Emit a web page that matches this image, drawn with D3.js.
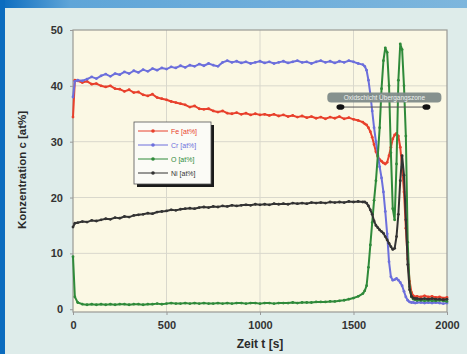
<!DOCTYPE html>
<html><head><meta charset="utf-8">
<script src="https://cdn.jsdelivr.net/npm/d3@7/dist/d3.min.js"></script>
<style>
html,body{margin:0;padding:0;background:#deecea;}
svg{display:block;font-family:"Liberation Sans",Arial,sans-serif;}
</style></head><body>
<svg id="c" width="467" height="354"></svg>
<script>
// ---- data ----
const timeS = [0,10,25,50,75,100,125,150,175,200,225,250,275,300,325,350,375,400,425,450,475,500,525,550,575,600,625,650,675,700,725,750,775,800,825,850,875,900,925,950,975,1000,1025,1050,1075,1100,1125,1150,1175,1200,1225,1250,1275,1300,1325,1350,1375,1400,1425,1450,1475,1500,1525,1550,
 1560,1570,1580,1590,1600,1610,1620,1630,1640,1650,1660,1670,1680,1690,1700,1710,1720,1730,1740,1750,1760,1770,1780,1790,1800,1810,1820,1830,1840,
 1860,1880,1900,1920,1940,1960,1980,2000];

const fe = [34.4,41.0,40.9,40.6,40.8,40.3,40.4,40.0,39.8,40.0,39.5,39.4,39.0,39.3,38.8,38.9,38.4,38.2,38.5,37.9,37.7,37.5,37.2,37.0,36.8,36.6,36.2,36.4,35.9,35.8,35.9,35.5,35.3,35.5,35.1,35.0,35.2,34.9,35.1,34.8,35.0,34.8,34.9,34.7,34.9,34.6,34.8,34.5,34.7,34.4,34.6,34.3,34.5,34.2,34.4,34.1,34.4,34.2,34.5,34.1,34.3,34.0,33.8,33.5,
 33.2,33.0,32.5,31.8,30.8,29.5,28.2,27.3,26.8,26.5,26.2,26.0,26.3,27.5,29.0,30.5,31.2,31.5,31.0,29.0,25.5,21.0,14.5,9.0,5.0,3.0,2.4,2.2,2.3,
 2.2,2.4,2.2,2.3,2.1,2.2,2.0,2.1];

const cr = [38.0,40.8,41.0,40.9,41.2,41.6,41.3,41.8,42.1,41.7,42.2,42.0,42.5,42.2,42.7,42.4,42.9,42.6,43.1,42.8,43.2,43.0,43.4,43.2,43.6,43.3,43.7,43.5,43.9,43.6,44.0,43.7,43.5,44.2,44.5,44.2,44.4,44.1,44.3,44.0,44.2,44.4,44.1,44.3,44.0,44.2,44.4,44.1,44.3,44.5,44.2,44.3,44.0,44.3,44.5,44.2,44.4,44.1,44.4,44.2,44.5,44.3,44.0,43.8,
 43.5,42.8,41.0,38.5,35.5,32.5,30.0,27.8,25.5,23.5,21.0,17.5,13.5,8.5,5.8,5.2,5.3,5.5,5.2,4.8,4.2,3.2,2.2,1.6,1.3,1.2,1.2,1.1,1.2,
 1.2,1.1,1.2,1.1,1.2,1.1,1.0,1.1];

const ox = [9.4,2.2,1.2,0.9,0.8,0.9,0.8,0.9,0.8,0.9,0.8,0.9,0.9,0.8,0.9,0.9,0.8,0.9,0.9,1.0,0.9,1.0,1.1,1.0,1.0,1.1,1.0,1.1,1.0,1.1,1.0,1.0,1.1,1.0,1.1,1.0,1.1,1.1,1.0,1.1,1.1,1.0,1.1,1.1,1.0,1.1,1.1,1.1,1.2,1.1,1.2,1.2,1.2,1.3,1.3,1.3,1.4,1.4,1.5,1.6,1.8,2.0,2.3,2.8,
 3.3,4.2,7.5,11.5,15.5,19.5,23.0,27.5,32.5,39.5,44.5,46.8,46.0,40.0,28.0,18.0,16.0,26.0,41.0,47.5,46.5,40.0,31.0,12.0,4.0,2.2,1.8,1.7,1.6,
 1.6,1.5,1.6,1.5,1.5,1.6,1.5,1.4];

const ni = [14.7,15.4,15.5,15.7,15.6,15.9,15.8,16.0,16.2,16.1,16.4,16.3,16.6,16.5,16.8,16.9,17.0,17.2,17.1,17.4,17.5,17.6,17.8,17.7,17.9,18.0,18.1,18.0,18.2,18.3,18.2,18.4,18.3,18.5,18.4,18.6,18.5,18.6,18.7,18.6,18.8,18.7,18.8,18.7,18.9,18.8,18.9,18.8,19.0,18.9,19.0,18.9,19.1,19.0,19.1,19.0,19.2,19.1,19.2,19.1,19.3,19.2,19.3,19.2,
 19.2,19.0,18.5,17.8,17.0,15.8,15.0,14.6,14.2,13.9,13.6,13.0,12.4,11.8,11.2,10.7,10.9,13.0,17.0,23.0,27.5,24.0,16.0,8.0,3.5,2.3,2.0,1.9,1.9,
 1.8,1.9,1.8,1.9,1.8,1.8,1.7,1.8];

const seriesNames = ["Fe [at%]","Cr [at%]","O [at%]","Ni [at%]"];
const seriesColors = ["#e8402c","#6c6fdc","#2f8a3a","#333333"];
const xTicks = [0,500,1000,1500,2000];
const yTicks = [0,10,20,30,40,50];
const yLabel = "Konzentration c [at%]";
const xLabel = "Zeit t [s]";
const annotationText = "Oxidschicht  Übergangszone";

// ---- chart ----
const svg = d3.select("#c");
const defs = svg.append("defs");
const g1 = defs.append("linearGradient").attr("id","topg").attr("x1","0").attr("x2","1");
g1.append("stop").attr("offset","0").attr("stop-color","#0b6cbf");
g1.append("stop").attr("offset","0.15").attr("stop-color","#5fa5d8");
g1.append("stop").attr("offset","1").attr("stop-color","#7db6dd");
svg.append("rect").attr("x",0).attr("y",0).attr("width",467).attr("height",8).attr("fill","url(#topg)");
svg.append("rect").attr("x",0).attr("y",0).attr("width",5).attr("height",354).attr("fill","#0b6cbf");

const L=73, R=447, T=30, B=312;
const x = d3.scaleLinear().domain([0,2000]).range([L,R]);
const y = d3.scaleLinear().domain([-0.5,50]).range([B,T]);

svg.append("rect").attr("x",L).attr("y",T).attr("width",R-L).attr("height",B-T).attr("fill","#fbf8e4");

// grid
svg.append("g").selectAll("line").data(xTicks.slice(1,-1)).join("line")
  .attr("x1",d=>x(d)).attr("x2",d=>x(d)).attr("y1",T).attr("y2",B)
  .attr("stroke","#d9d8cc").attr("stroke-width",1);
svg.append("g").selectAll("line").data(yTicks.slice(1,-1)).join("line")
  .attr("y1",d=>y(d)).attr("y2",d=>y(d)).attr("x1",L).attr("x2",R)
  .attr("stroke","#d9d8cc").attr("stroke-width",1);

// axes
const xAxis = svg.append("g").attr("transform",`translate(0,${B})`)
  .call(d3.axisBottom(x).tickValues(xTicks).tickFormat(d3.format("d")).tickSize(3).tickPadding(6));
const yAxis = svg.append("g").attr("transform",`translate(${L},0)`)
  .call(d3.axisLeft(y).tickValues(yTicks).tickFormat(d3.format("d")).tickSize(3).tickPadding(7));
[xAxis,yAxis].forEach(a=>{
  a.select(".domain").remove();
  a.selectAll("line").attr("stroke","#999");
  a.selectAll("text").attr("fill","#333").attr("font-size",11).attr("font-weight","bold")
   .attr("font-family","'Liberation Sans',Arial,sans-serif");
});

// frame
svg.append("rect").attr("x",L).attr("y",T).attr("width",R-L).attr("height",B-T)
  .attr("fill","none").attr("stroke","#9a9a94").attr("stroke-width",1.2);

// series
const all = [fe,cr,ox,ni];
const plotG = svg.append("g");
const line = d3.line().x((d,i)=>x(timeS[i])).y(d=>y(d));
all.forEach((vals,k)=>{
  plotG.append("path").datum(vals).attr("d",line)
    .attr("fill","none").attr("stroke",seriesColors[k]).attr("stroke-width",2).attr("stroke-linejoin","round");
  plotG.append("g").selectAll("circle").data(vals).join("circle")
    .attr("cx",(d,i)=>x(timeS[i])).attr("cy",d=>y(d)).attr("r",1.4).attr("fill",seriesColors[k]);
});

// legend
const lg = svg.append("g").attr("transform","translate(134,122)");
lg.append("rect").attr("x",3).attr("y",3).attr("width",77).attr("height",62).attr("fill","#1a1a1a");
lg.append("rect").attr("x",0).attr("y",0).attr("width",77).attr("height",62).attr("fill","#fbfbf6").attr("stroke","#555").attr("stroke-width",0.8);
seriesNames.forEach((n,k)=>{
  const yy = 9 + k*14;
  lg.append("line").attr("x1",4).attr("x2",34).attr("y1",yy).attr("y2",yy).attr("stroke",seriesColors[k]).attr("stroke-width",1);
  lg.append("circle").attr("cx",19).attr("cy",yy).attr("r",1.8).attr("fill",seriesColors[k]);
  lg.append("text").attr("x",37).attr("y",yy+2.5).attr("font-size",7).attr("fill",seriesColors[k]).text(n);
});

// annotation bar with double arrow
const ag = svg.append("g");
ag.append("rect").attr("x",x(1360)).attr("y",y(38.8)).attr("width",x(1970)-x(1360)).attr("height",10)
  .attr("rx",4).attr("fill","#7f8b89").attr("opacity",0.95);
ag.append("text").attr("x",(x(1360)+x(1970))/2).attr("y",y(38.8)+7.5).attr("text-anchor","middle")
  .attr("font-size",6.5).attr("fill","#eef2f0").text(annotationText);
ag.append("line").attr("x1",x(1430)).attr("x2",x(1890)).attr("y1",y(36.2)).attr("y2",y(36.2))
  .attr("stroke","#555").attr("stroke-width",1);
[1430,1890].forEach(t=>ag.append("ellipse").attr("cx",x(t)).attr("cy",y(36.2)).attr("rx",4).attr("ry",2.8).attr("fill","#111"));

// axis labels
svg.append("text").attr("x",260).attr("y",348).attr("text-anchor","middle")
  .attr("font-size",12).attr("font-weight","bold").attr("fill","#2a2a2a").text(xLabel);
svg.append("text").attr("transform","translate(26,170) rotate(-90)").attr("text-anchor","middle")
  .attr("font-size",11.5).attr("font-weight","bold").attr("fill","#2a2a2a").text(yLabel);
</script>
</body></html>
